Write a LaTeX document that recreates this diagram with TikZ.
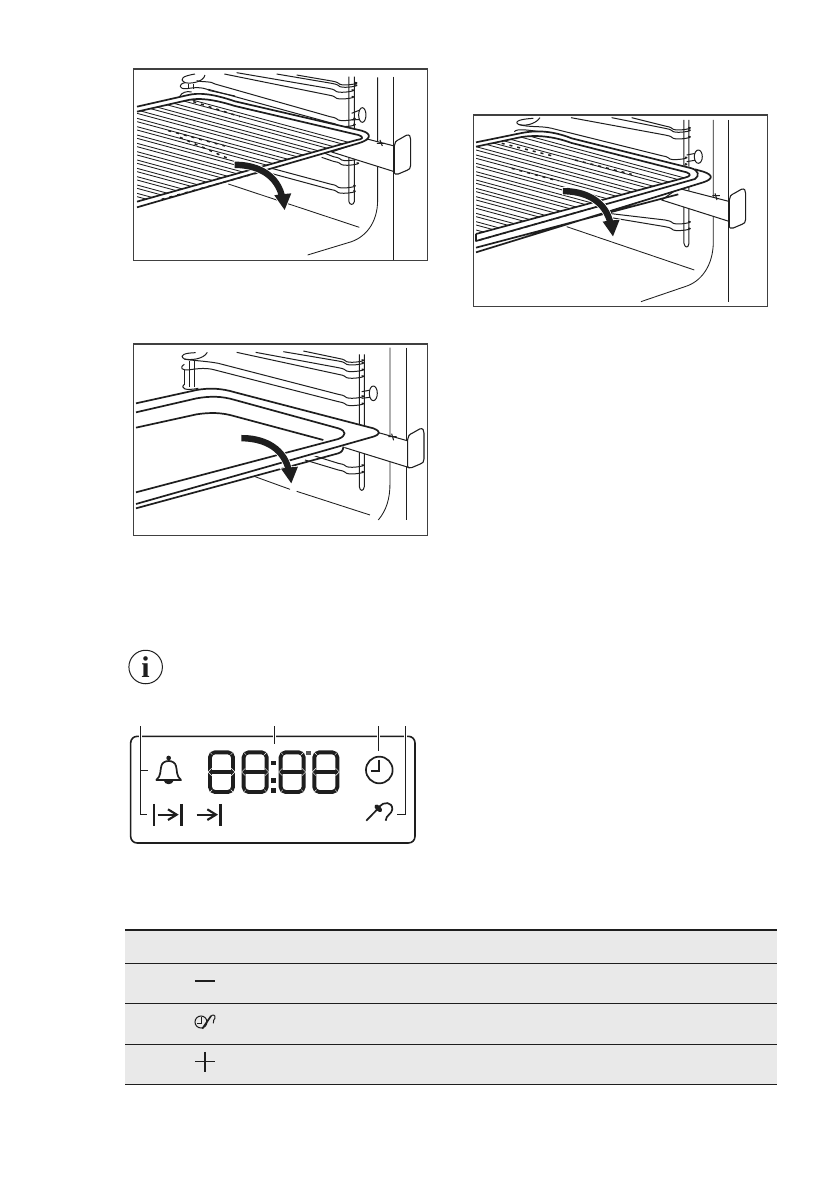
\documentclass[tikz,border=0pt]{standalone}
\usepackage{fontspec}
\setmainfont{Liberation Serif}
\definecolor{ink}{HTML}{1E1E1E}
\definecolor{rowgray}{HTML}{E9E9E9}
\tikzset{
  framebox/.style={draw=ink!85,line width=1.1pt,fill=white},
  wallline/.style={draw=ink,line width=.85pt},
  wireline/.style={draw=ink,line width=1pt,line join=round},
  gridline/.style={draw=ink,line width=.85pt},
  smudge/.style={draw=ink,line width=1.5pt,dash pattern=on 3pt off 5pt},
  rackline/.style={draw=ink,line width=1.7pt,line join=round},
  handlebody/.style={draw=ink,line width=1.1pt,fill=white,line join=round},
  dispicon/.style={draw=ink,line width=1.7pt},
  leader/.style={draw=ink,line width=.8pt},
  rowrule/.style={draw=ink,line width=.9pt},
  segline/.style={draw=ink,line width=3.9pt},
  seggap/.style={draw=white,line width=.45pt}
}
\newcommand{\bigarrow}[2]{%
  \begin{scope}[shift={(#1,#2)}]
    \path[draw=white,line width=1.6pt,fill=white] (0,-9) .. controls (60,-10) and (130,15) .. (150,88)
      -- (170,86) -- (150,136) -- (119,92) -- (131,90)
      .. controls (112,32) and (60,11) .. (0,10) -- cycle;
    \path[fill=ink] (0,-9) .. controls (60,-10) and (130,15) .. (150,88)
      -- (170,86) -- (150,136) -- (119,92) -- (131,90)
      .. controls (112,32) and (60,11) .. (0,10) -- cycle;
  \end{scope}}
\newcommand{\railwire}[4]{%
  \draw[wireline] (#1,#2) -- (#3,#4) .. controls ++(10,2) and ++(-10,-8) .. ++(25,10)
     .. controls ++(15,6) and ++(25,2) .. ++(45,-6);}
\newcommand{\ovenhandle}[2]{%
  \begin{scope}[shift={(#1,#2)}]
    \path[handlebody] (0,100) -- (0,20) .. controls (0,10) and (5,4) .. (15,0) -- (36,-12)
      .. controls (46,-16) and (49,-8) .. (49,0) -- (49,78)
      .. controls (49,88) and (45,90) .. (38,93) -- (12,104) .. controls (4,106) and (0,104) .. (0,100) -- cycle;
    \draw[ink,line width=1.7pt] (0,20) -- (0,100);
  \end{scope}}
\newcommand{\segdigit}[1]{%
  \begin{scope}[shift={(#1,0)}]
    \draw[segline,rounded corners=5pt] (6,337) rectangle (75,456);
    \draw[segline] (6,396) -- (75,396);
    \draw[seggap] (-1,330) -- (13,344) (82,330) -- (68,344) (-1,463) -- (13,449) (82,463) -- (68,449);
    \draw[seggap] (0,396) -- (11,385) (0,396) -- (11,407) (81,396) -- (70,385) (81,396) -- (70,407);
  \end{scope}}
\begin{document}
\begin{tikzpicture}[x=1pt,y=-1pt]
\useasboundingbox (0,0) rectangle (839,1191);
\fill[white] (0,0) rectangle (839,1191);

%% ============ Panel A ============
\begin{scope}[shift={(125,60)},x=.3333pt,y=-.3333pt]
  \draw[framebox] (25,27) rectangle (908,601);
  \begin{scope}
    \clip (26,28) rectangle (907,600);
    \draw[wallline] (758,52) -- (758,420) .. controls (758,490) and (720,535) .. (670,548) -- (548,585);
    \draw[wallline] (805,50) -- (805,601);
    \draw[wallline] (310,372) -- (703,502);
    \draw[wireline] (672,50) -- (672,425) .. controls (674,436) and (686,436) .. (688,425) -- (688,50);
    \draw[wireline] (680,160) -- (705,150) (680,180) -- (710,178);
    \draw[wireline,fill=white] (712,165) ellipse (11 and 22);
    \railwire{335}{38}{610}{85}
    \railwire{298}{42}{610}{105}
    \railwire{455}{42}{620}{70}
    \railwire{515}{45}{620}{63}
    \railwire{270}{72}{615}{170}
    \railwire{250}{88}{615}{188}
    \railwire{440}{325}{615}{372}
    \railwire{430}{338}{615}{388}
    \railwire{600}{280}{625}{290}
    \railwire{590}{292}{625}{304}
    \draw[wireline] (210,42) .. controls (175,48) and (160,56) .. (180,68) .. controls (200,72) and (235,66) .. (240,45);
    \draw[wireline] (180,68) .. controls (160,72) and (160,88) .. (185,86) .. controls (200,84) and (230,78) .. (255,92) -- (330,108);
    \draw[wireline] (205,72) -- (205,88) (190,72) -- (190,88);
    \draw[wireline] (215,62) .. controls (240,68) and (255,62) .. (270,72);
    \draw[wireline] (165,108) .. controls (170,98) and (185,92) .. (200,96);
    \draw[wireline,fill=white] (620,276) -- (808,335) -- (808,258) -- (730,238) -- cycle;
    \draw[wireline] (765,240) -- (772,258) (756,250) -- (780,250);
    \ovenhandle{808}{238}
    \path[fill=white] (36,140) -- (190,105) .. controls (220,98) and (260,100) .. (330,124) -- (710,212) .. controls (745,222) and (735,240) .. (700,250) -- (36,442) -- cycle;
    \begin{scope}
      \clip (36,155) -- (190,120) .. controls (220,114) and (260,116) .. (330,138) -- (700,225) .. controls (720,232) and (712,238) .. (695,240) -- (36,425) -- cycle;
      \foreach \y in {75,100,...,475} {
        \draw[gridline] (36,\y) -- (700,\y+180);
        \draw[gridline] (36,\y+10) -- (700,\y+190);
      }
      \draw[smudge] (130,212) -- (300,258) (165,232) -- (315,298) (205,125) -- (345,170);
    \end{scope}
    \draw[rackline] (36,140) -- (190,105) .. controls (220,98) and (260,100) .. (330,124) -- (710,212) .. controls (745,222) and (735,240) .. (700,250) -- (36,442);
    \draw[rackline] (36,155) -- (190,120) .. controls (220,114) and (260,116) .. (330,138) -- (700,225) .. controls (720,232) and (712,238) .. (695,240) -- (36,425);
    \draw[smudge] (110,418) -- (400,338);
  \end{scope}
  \bigarrow{329}{314}
\end{scope}

%% ============ Panel B ============
\begin{scope}[shift={(125,335)},x=.3333pt,y=-.3333pt]
  \draw[framebox] (25,27) rectangle (908,601);
  \begin{scope}
    \clip (26,28) rectangle (907,600);
    \draw[wallline] (795,38) -- (795,445) .. controls (795,490) and (785,525) .. (760,555);
    \draw[wallline] (845,38) -- (845,555);
    \draw[wallline] (390,425) -- (495,463) (515,469) -- (735,540);
    \draw[wireline] (703,58) -- (703,455) .. controls (705,470) and (716,470) .. (718,455) -- (718,58);
    \draw[wireline] (710,170) -- (738,165) (710,190) -- (742,186);
    \draw[wireline,fill=white] (745,175) ellipse (12 and 22);
    \railwire{335}{52}{640}{118}
    \railwire{392}{52}{640}{98}
    \railwire{475}{50}{640}{78}
    \railwire{535}{48}{640}{70}
    \railwire{280}{85}{640}{178}
    \railwire{270}{105}{640}{200}
    \railwire{560}{360}{640}{385}
    \railwire{540}{375}{640}{405}
    \draw[wireline] (212,53) .. controls (180,54) and (160,60) .. (178,72) .. controls (195,76) and (235,74) .. (247,52);
    \draw[wireline] (178,88) .. controls (162,98) and (170,108) .. (195,104) .. controls (225,100) and (245,98) .. (270,105);
    \draw[wireline] (178,72) .. controls (190,76) and (245,78) .. (280,85);
    \draw[wireline] (180,105) -- (180,150) (195,78) -- (195,155) (210,78) -- (210,155);
    \draw[wireline] (178,148) .. controls (165,160) and (180,168) .. (220,160);
    \draw[wireline,fill=white] (650,335) -- (850,397) -- (850,318) -- (750,290) -- cycle;
    \draw[wireline] (800,296) -- (806,316) (790,305) -- (815,305);
    \ovenhandle{848}{294}
    \path[fill=white] (33,205) -- (215,165) .. controls (255,158) and (290,160) .. (330,172) -- (745,280) .. controls (770,290) and (765,298) .. (745,305) -- (650,340) -- (33,522) -- cycle;
    \draw[rackline] (33,205) -- (215,165) .. controls (255,158) and (290,160) .. (330,172) -- (745,280) .. controls (770,290) and (765,298) .. (745,305) -- (33,507);
    \draw[rackline] (33,232) -- (215,190) .. controls (255,183) and (290,183) .. (330,195) -- (640,280) .. controls (665,288) and (665,302) .. (640,312) -- (33,472);
    \draw[rackline] (33,278) -- (215,238) .. controls (255,232) and (290,232) .. (330,244) -- (595,315);
    \draw[rackline] (33,520) -- (640,355) .. controls (650,352) and (655,345) .. (655,335);
  \end{scope}
  \bigarrow{349}{309}
\end{scope}

%% ============ Panel C ============
\begin{scope}[shift={(465,105)},x=.3333pt,y=-.3333pt]
  \draw[framebox] (25,30) rectangle (908,605);
  \begin{scope}
    \clip (26,31) rectangle (907,604);
    \draw[wallline] (745,45) -- (745,410) .. controls (745,480) and (710,530) .. (660,545) -- (528,590);
    \draw[wallline] (790,45) -- (790,592);
    \draw[wallline] (305,365) -- (688,495);
    \draw[wireline] (657,45) -- (657,415) .. controls (660,430) and (670,430) .. (672,415) -- (672,45);
    \draw[wireline] (665,150) -- (692,145) (665,170) -- (695,165);
    \draw[wireline,fill=white] (700,155) ellipse (12 and 20);
    \railwire{318}{38}{600}{90}
    \railwire{440}{38}{600}{70}
    \railwire{500}{38}{600}{63}
    \railwire{260}{70}{590}{152}
    \railwire{250}{85}{590}{172}
    \railwire{430}{325}{600}{345}
    \railwire{420}{335}{600}{365}
    \draw[wireline] (205,40) .. controls (170,42) and (145,48) .. (160,58) .. controls (175,64) and (210,60) .. (225,38);
    \draw[wireline] (160,58) .. controls (190,68) and (230,62) .. (260,70);
    \draw[wireline] (148,80) .. controls (155,70) and (190,74) .. (250,85);
    \draw[wireline,fill=white] (590,285) -- (795,350) -- (795,290) -- (640,250) -- cycle;
    \draw[wireline] (750,265) -- (756,285) (742,272) -- (765,272);
    \ovenhandle{793}{265}
    \path[fill=white] (33,112) -- (170,84) .. controls (210,76) and (260,76) .. (320,100) -- (700,192) .. controls (745,205) and (750,220) .. (720,230) -- (33,445) -- cycle;
    \begin{scope}
      \clip (33,125) -- (170,96) .. controls (210,90) and (260,92) .. (320,114) -- (665,202) .. controls (680,208) and (676,214) .. (660,218) -- (33,387) -- cycle;
      \foreach \y in {50,75,...,375} {
        \draw[gridline] (33,\y) -- (670,\y+172);
        \draw[gridline] (33,\y+10) -- (670,\y+182);
      }
      \draw[smudge] (140,190) -- (280,228) (110,115) -- (260,152) (330,165) -- (500,208);
    \end{scope}
    \draw[rackline] (33,112) -- (170,84) .. controls (210,76) and (260,76) .. (320,100) -- (680,190) .. controls (700,196) and (705,212) .. (690,222) -- (33,408) -- (33,387);
    \draw[rackline] (33,125) -- (170,96) .. controls (210,90) and (260,92) .. (320,114) -- (665,202) .. controls (680,208) and (676,214) .. (660,218) -- (33,387);
    \draw[rackline] (33,428) -- (640,268) (33,442) -- (715,232) .. controls (745,222) and (745,210) .. (715,200) -- (690,193);
    \draw[smudge] (45,405) -- (400,304);
  \end{scope}
  \bigarrow{294}{258}
\end{scope}

%% ============ Info icon and display ============
\begin{scope}[shift={(120,640)},x=.3333pt,y=-.3333pt]
  \node[draw=ink,line width=1pt,circle,minimum size=33.5pt,inner sep=0pt] (infoicon) at (77,81) {};
  \node[inner sep=0pt,text=ink,font=\fontsize{30}{30}\selectfont\bfseries] (infoi) at (77,80) {i};

  \draw[draw=ink,line width=1.6pt,rounded corners=6.5pt] (32,289) rectangle (885,609);
  \foreach \lx in {62,463,775,856} {
    \fill[white] (\lx-4,280) rectangle (\lx+4,298);
  }
  \draw[leader] (62,258) -- (62,522) -- (82,522);
  \draw[leader] (62,392) -- (85,392);
  \draw[leader] (463,258) -- (463,312);
  \draw[leader] (775,258) -- (775,332);
  \draw[leader] (856,258) -- (856,522) -- (830,522);

  \draw[dispicon,line join=round] (109,420) .. controls (124,408) and (120,392) .. (124,378) .. controls (128,358) and (164,358) .. (168,378) .. controls (172,392) and (168,408) .. (183,420) -- cycle;
  \fill[ink] (146,354) circle (7);
  \fill[ink] (130,420) .. controls (135,437) and (157,437) .. (162,420) -- cycle;

  \segdigit{264}
  \segdigit{365}
  \segdigit{476}
  \segdigit{577}
  \fill[ink] (453,363) rectangle (468,376);
  \fill[ink] (453,415) rectangle (468,430);
  \fill[ink] (453,445) rectangle (468,458);
  \fill[ink!75] (559,332) rectangle (573,346);

  \draw[dispicon] (778,390) circle (40);
  \draw[dispicon] (778,359) -- (778,393) -- (752,393);

  \draw[dispicon] (103,492) -- (103,557);
  \draw[dispicon,line width=2.4pt] (184,492) -- (184,557);
  \draw[dispicon,line width=2.1pt] (113,524) -- (168,524);
  \draw[dispicon,line width=2.1pt] (144,508) -- (170,524) -- (144,540);
  \draw[dispicon,line width=2.4pt] (302,492) -- (302,557);
  \draw[dispicon,line width=2.1pt] (230,524) -- (287,524);
  \draw[dispicon,line width=2.1pt] (262,508) -- (288,524) -- (262,540);

  \draw[dispicon] (739,542) -- (772,508);
  \draw[dispicon] (778,500) .. controls (790,484) and (818,485) .. (817,508) .. controls (816,522) and (798,525) .. (797,542);
  \fill[ink,rotate around={-45:(775,505)}] (775,505) ellipse (14 and 8);
\end{scope}

%% ============ Table ============
\fill[rowgray] (125,930) rectangle (777,1084);
\draw[draw=ink,line width=1.7pt] (125,930) -- (777,930);
\draw[rowrule] (125,963.3) -- (777,963.3);
\draw[rowrule] (125,1003.3) -- (777,1003.3);
\draw[rowrule] (125,1044.3) -- (777,1044.3);
\draw[rowrule] (125,1084.3) -- (777,1084.3);
\begin{scope}[shift={(115,920)},x=.3333pt,y=-.3333pt]
  \draw[ink,line width=1.7pt] (240,183) -- (300,183);
  \draw[ink,line width=1.4pt] (240,425) -- (300,425) (270,396) -- (270,457);
  \draw[ink,line width=1pt] (258,306) circle (18);
  \draw[ink,line width=.9pt] (259,292) -- (259,309) -- (246,309);
  \draw[ink,line width=1.7pt] (262,326) -- (288,288);
  \draw[ink,line width=1pt] (286,290) .. controls (292,282) and (302,284) .. (300,294) .. controls (298,300) and (293,302) .. (295,310);
\end{scope}
\end{tikzpicture}
\end{document}
